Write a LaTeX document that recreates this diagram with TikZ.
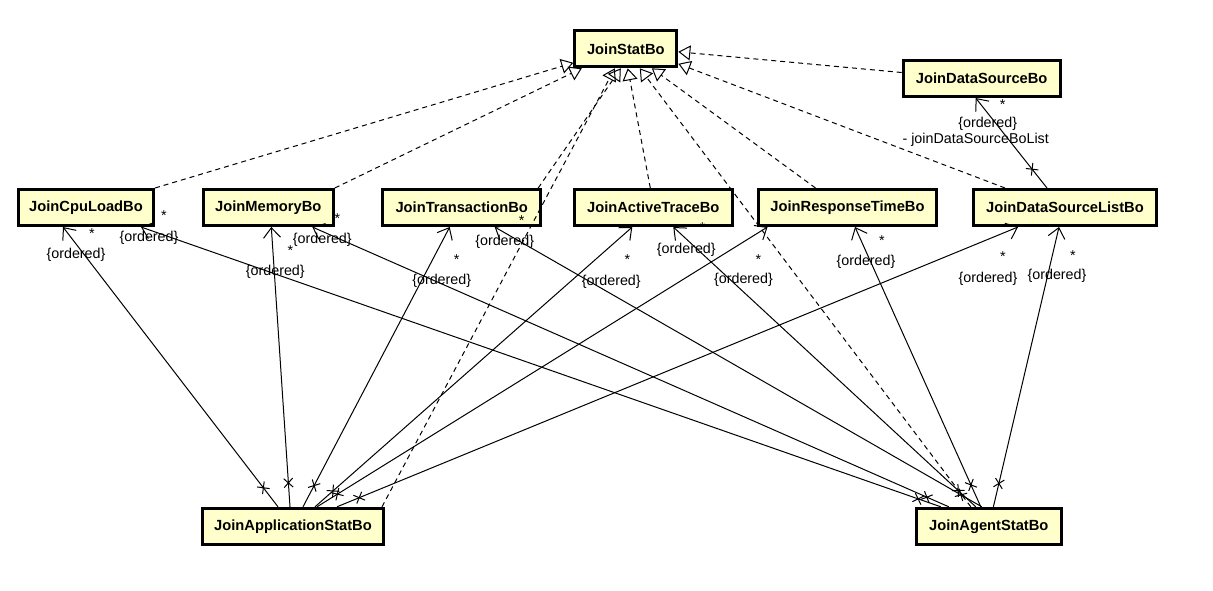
\documentclass[tikz,border=0pt]{standalone}
\usepackage{fontspec}
\setmainfont{Liberation Sans}
\usetikzlibrary{arrows.meta,positioning,decorations.markings}
\definecolor{bofill}{RGB}{255,255,204}
\tikzset{
    cls/.style={draw, line width=3pt, fill=bofill, minimum height=36pt, inner sep=0pt, font=\fontsize{14.7}{17}\selectfont\bfseries},
    lbl/.style={inner sep=0pt, text height=10pt, text depth=3pt, font=\fontsize{14.3}{16}\selectfont},
    mult/.style={lbl, yshift=-4.8pt},
    realize/.style={dash pattern=on 5pt off 4pt, -{Triangle[open, length=12pt, width=15pt]}},
    navx/.style={postaction={decorate, decoration={markings, mark=at position 24pt with {\draw[solid, -] (-4.5,-4.5) -- (4.5,4.5) (-4.5,4.5) -- (4.5,-4.5);}}}}
}

\begin{document}
\begin{tikzpicture}[x=1pt, y=-1pt, ->, >={Straight Barb[length=10pt, width=17pt]}, line width=1pt]
            \path[use as bounding box, fill=white] (0,0) rectangle (1213,590);
            \node[cls, minimum width=102pt] (stat) at (625.8,48.8) {JoinStatBo};
            \node[cls, minimum width=157pt] (dsrc) at (981.7,78.5) {JoinDataSourceBo};
            \node[cls, minimum width=135pt] (cpu)  at (86,207.5)   {JoinCpuLoadBo};
            \node[cls, minimum width=130pt, node distance=182.3pt, right of=cpu] (mem) {JoinMemoryBo};
            \node[cls, minimum width=158pt, node distance=193.4pt, right of=mem] (trx) {JoinTransactionBo};
            \node[cls, minimum width=158pt, node distance=191.6pt, right of=trx] (act) {JoinActiveTraceBo};
            \node[cls, minimum width=178pt, node distance=194.2pt, right of=act] (rsp) {JoinResponseTimeBo};
            \node[cls, minimum width=183pt, node distance=217.5pt, right of=rsp] (dsl) {JoinDataSourceListBo};
            \node[cls, minimum width=181pt] (app)  at (293,526.3)  {JoinApplicationStatBo};
            \node[cls, minimum width=145pt, node distance=695.8pt, right of=app] (agt) {JoinAgentStatBo};
            \path[realize]
                    (cpu.north east)             edge ([yshift=-14pt]stat.west)
                    (mem.north east)             edge ([xshift=-44pt]stat.south)
                    ([xshift=-3pt]app.north east) edge ([xshift=-11pt]stat.south)
                    ([xshift=-4pt]trx.north east) edge ([xshift=-5pt]stat.south)
                    ([xshift=-3pt]act.north)      edge ([xshift=2pt]stat.south)
                    ([xshift=-18pt]agt.north)     edge ([xshift=14pt]stat.south)
                    ([xshift=-32pt]rsp.north)     edge ([xshift=26pt]stat.south)
                    ([xshift=-60pt]dsl.north)     edge ([yshift=-15pt]stat.east)
                    ([yshift=6pt]dsrc.west)       edge ([yshift=-3pt]stat.east);
            \path   ([xshift=-15pt]app.north) edge[navx] node[mult, at end, shift={(29,3)}]   (m1) {*}
                                                         node[lbl, at end, shift={(13,28)}]   (o1) {\{ordered\}} ([xshift=-23pt]cpu.south)
                    ([xshift=-3pt]app.north)  edge[navx] node[mult, at end, shift={(19,20)}]  (m3) {*}
                                                         node[lbl, at end, shift={(4,45)}]    (o3) {\{ordered\}} ([xshift=3pt]mem.south)
                    ([xshift=10pt]app.north)  edge[navx] node[mult, at end, shift={(7,29)}]   (m5) {*}
                                                         node[lbl, at end, shift={(-8,54)}]   (o5) {\{ordered\}} ([xshift=-12pt]trx.south)
                    ([xshift=22pt]app.north)  edge[navx] node[mult, at end, shift={(-5,29)}]  (m7) {*}
                                                         node[lbl, at end, shift={(-21,55)}]  (o7) {\{ordered\}} ([xshift=-21pt]act.south)
                    ([xshift=24pt]app.north)  edge[navx] node[mult, at end, shift={(-9,29)}]  (m9) {*}
                                                         node[lbl, at end, shift={(-24,53)}]  (o9) {\{ordered\}} ([xshift=-80pt]rsp.south)
                    ([xshift=44pt]app.north)  edge[navx] node[mult, at end, shift={(-15,26)}] (m11) {*}
                                                         node[lbl, at end, shift={(-30,52)}]  (o11) {\{ordered\}} ([xshift=-47pt]dsl.south);
            \path   ([xshift=-48pt]agt.north) edge[navx] node[mult, at end, shift={(23,-15)}] (m2) {*}
                                                         node[lbl, at end, shift={(8,11)}]    (o2) {\{ordered\}} ([xshift=55pt]cpu.south)
                    ([xshift=-40pt]agt.north) edge[navx] node[mult, at end, shift={(25,-12)}] (m4) {*}
                                                         node[lbl, at end, shift={(10,13)}]   (o4) {\{ordered\}} ([xshift=44pt]mem.south)
                    ([xshift=-7pt]agt.north)  edge[navx] node[mult, at end, shift={(27,-10)}] (m6) {*}
                                                         node[lbl, at end, shift={(10,15)}]   (o6) {\{ordered\}} ([xshift=33pt]trx.south)
                    ([xshift=-13pt]agt.north) edge[navx] node[mult, at end, shift={(29,-3)}]  (m8) {*}
                                                         node[lbl, at end, shift={(13,23)}]   (o8) {\{ordered\}} ([xshift=20pt]act.south)
                    ([xshift=-8pt]agt.north)  edge[navx] node[mult, at end, shift={(27,10)}]  (m10) {*}
                                                         node[lbl, at end, shift={(11,35)}]   (o10) {\{ordered\}} ([xshift=7.5pt]rsp.south)
                    ([xshift=4.6pt]agt.north) edge[navx] node[mult, at end, shift={(14,25)}]  (m12) {*}
                                                         node[lbl, at end, shift={(-2,49)}]   (o12) {\{ordered\}} ([xshift=-6pt]dsl.south)
                    ([xshift=-18pt]dsl.north) edge[navx] node[mult, at end, shift={(27,3)}]   (m13) {*}
                                                         node[lbl, at end, shift={(12,26)}]   (o13) {\{ordered\}}
                                                         node[lbl, at end, shift={(0,42)}]    (role) {- joinDataSourceBoList} ([xshift=-6pt]dsrc.south);
        \end{tikzpicture}
\end{document}
